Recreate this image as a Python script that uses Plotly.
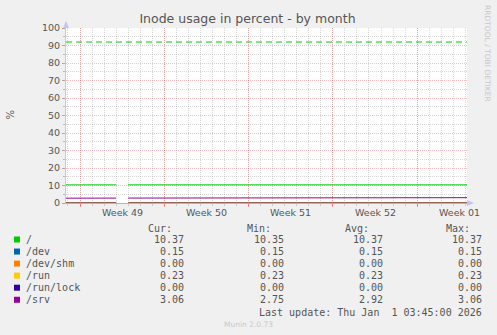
import plotly.graph_objects as go
import pandas as pd

# ---------------- data ----------------
title = "Inode usage in percent - by month"
y_label = "%"
series_names = ["/", "/dev", "/dev/shm", "/run", "/run/lock", "/srv"]
series_colors = ["#00CC00", "#0066B3", "#FF8000", "#FFCC00", "#330099", "#990099"]
cur_vals = [10.37, 0.15, 0.00, 0.23, 0.00, 3.06]
min_vals = [10.35, 0.15, 0.00, 0.23, 0.00, 2.75]
avg_vals = [10.37, 0.15, 0.00, 0.23, 0.00, 2.92]
max_vals = [10.37, 0.15, 0.00, 0.23, 0.00, 3.06]
warning_level = 92
week_labels = ["Week 49", "Week 50", "Week 51", "Week 52", "Week 01"]
week_starts = ["2025-12-01", "2025-12-08", "2025-12-15", "2025-12-22", "2025-12-29"]
x_start = "2025-11-29 20:06"
x_end = "2026-01-02 03:22"
last_update = "Last update: Thu Jan  1 03:45:00 2026"
footer = "Munin 2.0.73"
watermark = "RRDTOOL / TOBI OETIKER"

# sample times: daily, with a missing-data marker on Dec 4
days = list(pd.date_range("2025-11-29", "2026-01-03", freq="D"))
times = days[:6] + [pd.Timestamp("2025-12-04 01:00")] + days[6:]

root_vals = [10.35, 10.35, 10.36, 10.36, 10.36, 10.36, None,
             10.37, 10.37, 10.37, 10.37, 10.37, 10.37, 10.37, 10.37, 10.37, 10.37,
             10.37, 10.37, 10.37, 10.37, 10.37, 10.37, 10.37, 10.37, 10.37, 10.37,
             10.37, 10.37, 10.37, 10.37, 10.37, 10.37, 10.37, 10.37, 10.37, 10.37]
dev_vals = [0.15, 0.15, 0.15, 0.15, 0.15, 0.15, None,
            0.15, 0.15, 0.15, 0.15, 0.15, 0.15, 0.15, 0.15, 0.15, 0.15,
            0.15, 0.15, 0.15, 0.15, 0.15, 0.15, 0.15, 0.15, 0.15, 0.15,
            0.15, 0.15, 0.15, 0.15, 0.15, 0.15, 0.15, 0.15, 0.15, 0.15]
devshm_vals = [0.00, 0.00, 0.00, 0.00, 0.00, 0.00, None,
               0.00, 0.00, 0.00, 0.00, 0.00, 0.00, 0.00, 0.00, 0.00, 0.00,
               0.00, 0.00, 0.00, 0.00, 0.00, 0.00, 0.00, 0.00, 0.00, 0.00,
               0.00, 0.00, 0.00, 0.00, 0.00, 0.00, 0.00, 0.00, 0.00, 0.00]
run_vals = [0.23, 0.23, 0.23, 0.23, 0.23, 0.23, None,
            0.23, 0.23, 0.23, 0.23, 0.23, 0.23, 0.23, 0.23, 0.23, 0.23,
            0.23, 0.23, 0.23, 0.23, 0.23, 0.23, 0.23, 0.23, 0.23, 0.23,
            0.23, 0.23, 0.23, 0.23, 0.23, 0.23, 0.23, 0.23, 0.23, 0.23]
runlock_vals = [0.00, 0.00, 0.00, 0.00, 0.00, 0.00, None,
                0.00, 0.00, 0.00, 0.00, 0.00, 0.00, 0.00, 0.00, 0.00, 0.00,
                0.00, 0.00, 0.00, 0.00, 0.00, 0.00, 0.00, 0.00, 0.00, 0.00,
                0.00, 0.00, 0.00, 0.00, 0.00, 0.00, 0.00, 0.00, 0.00, 0.00]
srv_vals = [2.75, 2.76, 2.78, 2.78, 2.79, 2.81, None,
            2.82, 2.83, 2.83, 2.85, 2.86, 2.87, 2.87, 2.88, 2.90, 2.91,
            2.92, 2.92, 2.93, 2.95, 2.96, 2.96, 2.97, 2.99, 3.00, 3.00,
            3.01, 3.02, 3.02, 3.03, 3.04, 3.04, 3.05, 3.06, 3.06, 3.06]
series_vals = [root_vals, dev_vals, devshm_vals, run_vals, runlock_vals, srv_vals]

# ---------------- layout helpers ----------------
W, H = 497, 335
PL, PR, PT, PB = 66, 467, 28, 203


def xp(px):
    return (px - PL) / (PR - PL)


def yp(py):
    return (PB - py) / (PB - PT)


TXT = "#555555"
MONO = "DejaVu Sans Mono"
SANS = "DejaVu Sans"
AXIS_COL = "#C4C4F2"
MGRID = "rgba(240,60,60,0.34)"
GRID = "rgba(120,120,120,0.30)"
DOT = "1px,1px"

fig = go.Figure()
for name, color, vals in zip(series_names, series_colors, series_vals):
    fig.add_trace(go.Scatter(x=times, y=vals, name=name, mode="lines",
                             line=dict(color=color, width=1),
                             connectgaps=False, showlegend=False,
                             hoverinfo="skip"))

fig.add_hline(y=warning_level, line=dict(color=series_colors[0], width=1, dash="6px,4px"))

week_mids = [pd.Timestamp(w) + pd.Timedelta(hours=84) for w in week_starts]

fig.update_layout(
    width=W, height=H,
    margin=dict(l=PL, r=W - PR, t=PT, b=H - PB, pad=0),
    paper_bgcolor="#F0F0F0", plot_bgcolor="#FFFFFF",
    title=dict(text=title, font=dict(family=SANS, size=12.5, color=TXT),
               x=xp(247.5), xref="paper", xanchor="center",
               y=1 - 19 / H, yref="container", yanchor="middle"),
    xaxis=dict(type="date", range=[x_start, x_end],
               tickmode="array", tickvals=week_starts, showticklabels=False,
               ticks="outside", ticklen=3, tickcolor="rgba(255,0,0,0.4)",
               showgrid=True, gridcolor=MGRID, griddash=DOT, gridwidth=1,
               minor=dict(dtick=86400000, tick0="2025-12-01", showgrid=True,
                          gridcolor=GRID, griddash=DOT, gridwidth=1,
                          ticks="outside", ticklen=2, tickcolor=GRID),
               showline=True, linecolor="#AFAFE6", linewidth=1,
               zeroline=False, fixedrange=True),
    yaxis=dict(range=[0, 100], tickmode="linear", tick0=0, dtick=10,
               ticks="outside", ticklen=3, tickcolor="#AAAAAA",
               showgrid=True, gridcolor=MGRID, griddash=DOT, gridwidth=1,
               minor=dict(dtick=5, showgrid=True, gridcolor=GRID,
                          griddash=DOT, gridwidth=1,
                          ticks="outside", ticklen=2, tickcolor="#BBBBBB"),
               showline=True, linecolor=AXIS_COL, linewidth=1,
               zeroline=False, fixedrange=True,
               tickfont=dict(family=SANS, size=9.5, color=TXT)),
)

# axis arrows
fig.add_shape(type="path", xref="paper", yref="paper",
              xsizemode="pixel", ysizemode="pixel", xanchor=0, yanchor=1,
              path="M -3,0 L 3,0 L 0,7 Z", fillcolor=AXIS_COL, line=dict(width=0))
fig.add_shape(type="path", xref="paper", yref="paper",
              xsizemode="pixel", ysizemode="pixel", xanchor=1, yanchor=0,
              path="M 0,-3 L 0,3 L 7,0 Z", fillcolor=AXIS_COL, line=dict(width=0))

ann = []


def text(s, px, py, size, color=TXT, family=MONO, xanchor="left", angle=0):
    ann.append(dict(text=s.replace(" ", "\u00a0"), x=xp(px), y=yp(py),
                    xref="paper", yref="paper", xanchor=xanchor,
                    yanchor="middle", showarrow=False, textangle=angle,
                    borderpad=0, borderwidth=0,
                    font=dict(family=family, size=size, color=color)))


# week labels on the time axis
for lbl, wm in zip(week_labels, week_mids):
    ann.append(dict(text=lbl.replace(" ", "\u00a0"), x=wm, y=yp(212),
                    xref="x", yref="paper", xanchor="center", yanchor="middle",
                    showarrow=False, borderpad=0, borderwidth=0,
                    font=dict(family=SANS, size=9.5, color=TXT)))

# y axis label and watermark
text(y_label, 10, 114.5, 10, family=SANS, xanchor="center", angle=-90)
text(watermark, 487.5, 53.5, 7.5, color="#C8C8C8", family=SANS,
     xanchor="center", angle=90)

# legend table
HEAD_Y = 228.3
ROW0 = 239.5
ROW_H = 12.05
cols_val = [184, 284, 383, 482]
cols_head = [172, 271, 369, 470]
for hdr, cx in zip(["Cur:", "Min:", "Avg:", "Max:"], cols_head):
    text(hdr, cx, HEAD_Y, 10, xanchor="right")

for i, (name, color) in enumerate(zip(series_names, series_colors)):
    ry = ROW0 + i * ROW_H
    fig.add_shape(type="rect", xref="paper", yref="paper",
                  x0=xp(14), x1=xp(20), y0=yp(ry + 3), y1=yp(ry - 3),
                  fillcolor=color, line=dict(width=0))
    text(name, 26, ry, 10)
    for vals, cx in zip([cur_vals, min_vals, avg_vals, max_vals], cols_val):
        text(f"{vals[i]:.2f}", cx, ry, 10, xanchor="right")

text(last_update, 482, 312.3, 10, xanchor="right")
text(footer, 248, 324, 7.5, color="#C8C8C8", family=SANS, xanchor="center")

fig.update_layout(annotations=ann)
fig.write_html("out.html")
